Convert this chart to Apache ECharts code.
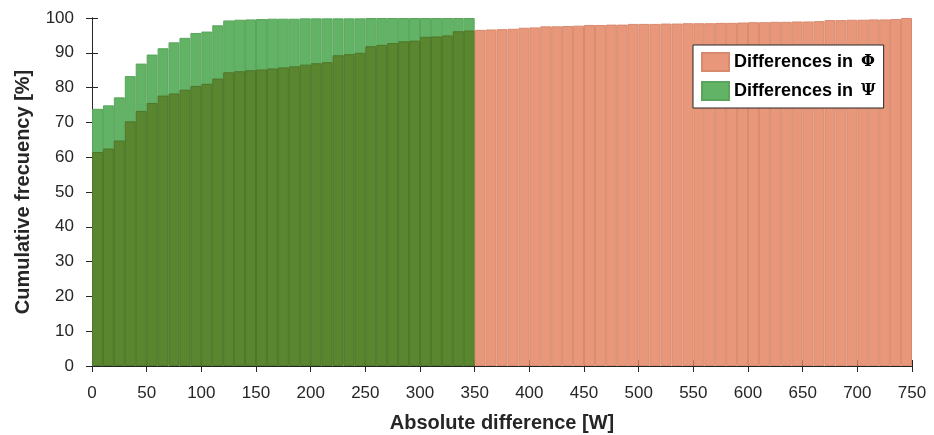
<!DOCTYPE html>
<html><head><meta charset="utf-8">
<script src="https://cdn.jsdelivr.net/npm/echarts@6/dist/echarts.min.js"></script>
<style>html,body{margin:0;padding:0;background:#fff}#c{width:934px;height:435px}</style>
</head><body><div id="c"></div>
<script>
// Bin starts (width 10 W)
const binWidth = 10;
const phiValues = [61.5,62.5,64.8,70.3,73.3,75.6,77.7,78.3,79.4,80.5,
  81.1,82.6,84.4,84.7,85.0,85.2,85.5,85.8,86.1,86.6,
  87.0,87.3,89.3,89.6,90.0,91.9,92.3,92.8,93.3,93.5,
  94.6,94.7,95.0,96.2,96.4,96.6,96.7,96.8,96.9,97.2,
  97.3,97.6,97.6,97.7,97.8,98.0,98.0,98.1,98.1,98.3,
  98.3,98.3,98.4,98.4,98.5,98.5,98.5,98.6,98.6,98.7,
  98.8,98.8,98.9,98.9,99.0,99.0,99.1,99.4,99.4,99.5,
  99.5,99.6,99.6,99.7,100];
const psiValues = [73.9,74.9,77.2,83.3,86.9,89.5,91.3,93.0,94.3,95.7,
  96.1,97.9,99.3,99.5,99.6,99.7,99.8,99.8,99.8,99.9,
  99.9,99.9,99.9,99.9,99.9,100,100,100,100,100,
  100,100,100,100,100];
const xTicks = {min:0, max:750, interval:50};
const yTicks = {min:0, max:100, interval:10};
const phiName = 'Differences in Φ';
const psiName = 'Differences in Ψ';

const ORANGE = '#E9977A', GREEN = '#63B366', DARK = '#5A8630';
const phiData = phiValues.map((v,i)=>{
  const item = {value:[i*binWidth + binWidth/2, v]};
  if (i < psiValues.length) item.itemStyle = {color: DARK, borderColor:'#4F7729'};
  return item;
});
const psiData = psiValues.map((v,i)=>[i*binWidth + binWidth/2, v]);

const txt = '#262626';
const font = 'Liberation Sans, Arial, sans-serif';
const axisCommon = {
  axisLine:{show:true, lineStyle:{color:'#262626', width:1}},
  axisTick:{show:true, inside:false, length:6, lineStyle:{color:'#262626'}},
  splitLine:{show:false}
};
const chart = echarts.init(document.getElementById('c'));
chart.setOption({
  animation:false,
  backgroundColor:'#fff',
  textStyle:{fontFamily:font},
  grid:{left:92, right:22, top:18, bottom:69, containLabel:false, outerBoundsMode:'none'},
  legend:{
    data:[phiName, psiName],
    orient:'vertical', left:693, top:45,
    padding:[7,8,7,8], itemWidth:27, itemHeight:18, itemGap:9,
    backgroundColor:'#fff', borderColor:'#262626', borderWidth:1, borderRadius:0,
    formatter:function(n){ return '{a|' + n.slice(0, -1) + '}{b|' + n.slice(-1) + '}'; },
    textStyle:{fontFamily:font, fontSize:18, fontWeight:'bold', color:'#000',
      rich:{a:{fontFamily:font, fontSize:18, fontWeight:'bold', color:'#000'},
            b:{fontFamily:'DejaVu Serif, serif', fontSize:16, fontWeight:'bold', color:'#000', padding:[0,0,0,3]}}},
    icon:'rect', selectedMode:false
  },
  xAxis:[
    Object.assign({type:'value', position:'bottom', min:xTicks.min, max:xTicks.max, interval:xTicks.interval,
      name:'Absolute difference [W]', nameLocation:'middle', nameGap:47,
      nameTextStyle:{fontFamily:font, fontSize:20, fontWeight:'bold', color:txt},
      axisLabel:{fontFamily:font, fontSize:17, color:txt, margin:19}}, axisCommon),
    Object.assign({type:'value', position:'top', min:xTicks.min, max:xTicks.max, interval:xTicks.interval,
      axisLabel:{show:false}}, axisCommon)
  ],
  yAxis:[
    Object.assign({type:'value', position:'left', min:yTicks.min, max:yTicks.max, interval:yTicks.interval,
      name:'Cumulative frecuency [%]', nameLocation:'middle', nameGap:59,
      nameTextStyle:{fontFamily:font, fontSize:20, fontWeight:'bold', color:txt},
      axisLabel:{fontFamily:font, fontSize:17, color:txt, margin:18}}, axisCommon),
    Object.assign({type:'value', position:'right', min:yTicks.min, max:yTicks.max, interval:yTicks.interval,
      axisLabel:{show:false}}, axisCommon)
  ],
  series:[
    {name:psiName, type:'bar', data:psiData, barGap:'-100%', barCategoryGap:'0%', z:2,
      itemStyle:{color:GREEN, borderColor:'#59A55C', borderWidth:1}},
    {name:phiName, type:'bar', data:phiData, barGap:'-100%', barCategoryGap:'0%', z:3,
      itemStyle:{color:ORANGE, borderColor:'#D88A6E', borderWidth:1}}
  ]
});
</script></body></html>
